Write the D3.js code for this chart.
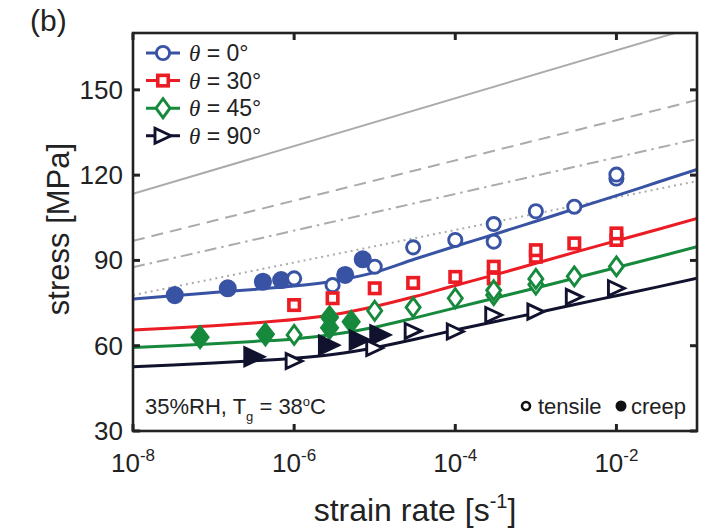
<!DOCTYPE html>
<html><head><meta charset="utf-8">
<script src="https://cdn.jsdelivr.net/npm/d3@7"></script>
<style>body{margin:0;background:#fff}svg{display:block}</style>
</head><body><svg id="c" width="712" height="530"></svg>
<script>
// ---- data ----
const xTicks = [1e-8, 1e-6, 1e-4, 1e-2];
const xTickExp = ["-8", "-6", "-4", "-2"];
const yTicks = [30, 60, 90, 120, 150];

const seriesAngles = ["0", "30", "45", "90"];

// fitted model curves (sampled along the drawn curves)
const fitRates = [1e-8, 3.16e-8, 1e-7, 3.16e-7, 1e-6, 3.16e-6, 1e-5, 3.16e-5, 1e-4, 3.16e-4, 1e-3, 3.16e-3, 1e-2, 3.16e-2, 1e-1];
const fit0  = [76.4, 77.6, 78.7, 79.8, 81.0, 82.8, 85.8, 90.5, 95.0, 99.3, 103.8, 108.3, 112.8, 117.4, 122.0];
const fit30 = [65.5, 66.2, 67.0, 68.0, 69.2, 71.0, 73.8, 77.3, 81.2, 85.0, 89.0, 93.0, 96.9, 100.8, 104.8];
const fit45 = [59.4, 60.0, 60.7, 61.5, 62.4, 64.0, 66.5, 69.8, 73.3, 76.8, 80.3, 83.9, 87.5, 91.1, 94.8];
const fit90 = [52.6, 53.2, 53.9, 54.7, 55.6, 57.0, 59.3, 62.3, 65.5, 68.5, 71.5, 74.6, 77.6, 80.6, 83.7];

// grey reference lines
const refRates = [1e-8, 1e-1];
const refSolid = [113.4, 172.3];
const refDashed = [96.9, 146.4];
const refDashDot = [87.6, 132.7];
const refDotted = [77.8, 117.9];

// tensile (open markers)
const tenRates0  = [1e-6, 3e-6, 1e-5, 3e-5, 1e-4, 3e-4, 3e-4, 1e-3, 3e-3, 1e-2, 1e-2];
const ten0       = [83.7, 81.3, 87.8, 94.6, 97.2, 96.6, 102.8, 107.3, 108.9, 118.8, 120.2];
const tenRates30 = [1e-6, 3e-6, 1e-5, 3e-5, 1e-4, 3e-4, 3e-4, 1e-3, 1e-3, 3e-3, 1e-2, 1e-2];
const ten30      = [74.3, 76.7, 80.2, 82.1, 84.2, 83.7, 87.8, 91.3, 93.6, 96.0, 97.2, 99.5];
const tenRates45 = [1e-6, 1e-5, 3e-5, 1e-4, 3e-4, 3e-4, 1e-3, 1e-3, 3e-3, 1e-2];
const ten45      = [63.8, 72.3, 73.5, 76.7, 77.8, 79.5, 81.5, 83.5, 84.4, 87.9];
const tenRates90 = [1e-6, 1e-5, 3e-5, 1e-4, 3e-4, 1e-3, 3e-3, 1e-2];
const ten90      = [54.6, 59.2, 65.2, 65.0, 70.8, 72.0, 77.2, 80.2];

// creep (filled markers)
const creepRates0  = [3.3e-8, 1.5e-7, 4.1e-7, 6.9e-7, 4.3e-6, 7.1e-6];
const creep0       = [77.8, 80.2, 82.5, 83.1, 84.9, 90.4];
const creepRates45 = [6.8e-8, 4.4e-7, 2.75e-6, 2.75e-6, 5.1e-6];
const creep45      = [63.0, 64.0, 70.0, 66.3, 68.4];
const creepRates90 = [3.2e-7, 2.7e-6, 6.5e-6, 1.17e-5];
const creep90      = [56.1, 60.2, 62.0, 63.8];

// ---- chart ----
const colors = ["#3953a4", "#ec1c24", "#16893d", "#10122e"];
const shapes = ["circle", "square", "diamond", "triangle"];
const grey = "#ababab";
const svg = d3.select("#c");
const L = 133, R = 697, T = 33, B = 431;
const x = d3.scaleLog().domain([1e-8, 1e-1]).range([L, R]);
const y = d3.scaleLinear().domain([30, 170]).range([B, T]);
const FONT = "'Liberation Sans', Arial, Helvetica, sans-serif";

svg.append("defs").append("clipPath").attr("id", "clip")
  .append("rect").attr("x", L).attr("y", T).attr("width", R - L).attr("height", B - T);

const plot = svg.append("g").attr("clip-path", "url(#clip)");
const line = d3.line().x(d => x(d[0])).y(d => y(d[1]));
const curve = d3.line().x(d => x(d[0])).y(d => y(d[1])).curve(d3.curveMonotoneX);
const zip = (a, b) => a.map((v, i) => [v, b[i]]);

// reference lines
[[refSolid, null], [refDashed, "12,7"], [refDashDot, "12,5,2.5,5"], [refDotted, "2,4"]].forEach(([vals, dash]) => {
  plot.append("path").attr("d", line(zip(refRates, vals)))
    .attr("fill", "none").attr("stroke", grey).attr("stroke-width", 2)
    .attr("stroke-dasharray", dash);
});

// fit curves
[fit0, fit30, fit45, fit90].forEach((f, i) => {
  plot.append("path").attr("d", curve(zip(fitRates, f)))
    .attr("fill", "none").attr("stroke", colors[i]).attr("stroke-width", 3);
});

function marker(g, shape, cx, cy, color, filled) {
  const fill = filled ? color : "#fff";
  let el;
  if (shape === "circle") {
    el = g.append("circle").attr("cx", cx).attr("cy", cy).attr("r", filled ? 7.6 : 6.6);
  } else if (shape === "square") {
    const s = 10.5;
    el = g.append("rect").attr("x", cx - s / 2).attr("y", cy - s / 2).attr("width", s).attr("height", s);
  } else if (shape === "diamond") {
    const w = filled ? 8 : 7, h = filled ? 10.5 : 9.5;
    el = g.append("path").attr("d", `M${cx},${cy - h}L${cx + w},${cy}L${cx},${cy + h}L${cx - w},${cy}Z`);
  } else {
    const w = filled ? 9.5 : 8, h = filled ? 9 : 7.5;
    el = g.append("path").attr("d", `M${cx + w},${cy}L${cx - w},${cy - h}L${cx - w},${cy + h}Z`);
  }
  el.attr("fill", fill).attr("stroke", color).attr("stroke-width", shape === "square" ? 3.6 : 2.9)
    .attr("stroke-linejoin", "miter");
  return el;
}

const mg = svg.append("g");
const creepSets = [[creepRates0, creep0, 0], [creepRates45, creep45, 2], [creepRates90, creep90, 3]];
creepSets.forEach(([r, v, i]) => r.forEach((rr, k) => marker(mg, shapes[i], x(rr), y(v[k]), colors[i], true)));
const tenSets = [[tenRates0, ten0, 0], [tenRates30, ten30, 1], [tenRates45, ten45, 2], [tenRates90, ten90, 3]];
tenSets.forEach(([r, v, i]) => r.forEach((rr, k) => marker(mg, shapes[i], x(rr), y(v[k]), colors[i], false)));

// frame + ticks
const ax = svg.append("g").attr("stroke", "#222");
const tickLen = 7;
xTicks.forEach(t => {
  ax.append("line").attr("x1", x(t)).attr("x2", x(t)).attr("y1", B).attr("y2", B - tickLen).attr("stroke-width", 3);
  ax.append("line").attr("x1", x(t)).attr("x2", x(t)).attr("y1", T).attr("y2", T + tickLen).attr("stroke-width", 3);
});
yTicks.forEach(t => {
  ax.append("line").attr("x1", L).attr("x2", L + tickLen).attr("y1", y(t)).attr("y2", y(t)).attr("stroke-width", 3);
  ax.append("line").attr("x1", R).attr("x2", R - tickLen).attr("y1", y(t)).attr("y2", y(t)).attr("stroke-width", 3);
});
svg.append("rect").attr("x", L).attr("y", T).attr("width", R - L).attr("height", B - T)
  .attr("fill", "none").attr("stroke", "#222").attr("stroke-width", 2.6);

// tick labels
const txt = svg.append("g").attr("font-family", FONT).attr("fill", "#222");
xTicks.forEach((t, i) => {
  const tx = txt.append("text").attr("x", x(t)).attr("y", 472).attr("text-anchor", "middle").attr("font-size", 26);
  tx.append("tspan").text("10");
  tx.append("tspan").attr("font-size", 17).attr("dy", -11).text(xTickExp[i]);
});
yTicks.forEach(t => {
  txt.append("text").attr("x", 123).attr("y", y(t) + 9).attr("text-anchor", "end").attr("font-size", 26).text(t);
});

// axis labels
txt.append("text").attr("transform", "translate(69,229) rotate(-90)").attr("text-anchor", "middle")
  .attr("font-size", 31).text("stress [MPa]");
const xl = txt.append("text").attr("x", 415).attr("y", 521).attr("text-anchor", "middle").attr("font-size", 32);
xl.append("tspan").text("strain rate [s");
xl.append("tspan").attr("font-size", 20).attr("dy", -13).text("-1");
xl.append("tspan").attr("dy", 13).text("]");
txt.append("text").attr("x", 30).attr("y", 31).attr("font-size", 30).text("(b)");

// legend
const lg = svg.append("g");
seriesAngles.forEach((a, i) => {
  const cy = 53 + i * 27.6;
  lg.append("line").attr("x1", 146).attr("x2", 180).attr("y1", cy).attr("y2", cy)
    .attr("stroke", colors[i]).attr("stroke-width", 3);
  marker(lg, shapes[i], 163, cy, colors[i], false);
  const t = lg.append("text").attr("x", 189).attr("y", cy + 8).attr("font-size", 23).attr("fill", "#222")
    .attr("font-family", FONT);
  t.append("tspan").attr("font-family", "'Liberation Serif', 'DejaVu Serif', serif").attr("font-style", "italic").text("θ");
  t.append("tspan").text(" = " + a + "°");
});

// annotations
const an = txt.append("text").attr("x", 145).attr("y", 414).attr("font-size", 22);
an.append("tspan").text("35%RH, T");
an.append("tspan").attr("font-size", 13).attr("dy", 7).text("g");
an.append("tspan").attr("dy", -7).text(" = 38");
an.append("tspan").attr("font-size", 13).attr("dy", -8).text("o");
an.append("tspan").attr("dy", 8).text("C");

svg.append("circle").attr("cx", 526).attr("cy", 406).attr("r", 4).attr("fill", "#fff").attr("stroke", "#111").attr("stroke-width", 2.6);
txt.append("text").attr("x", 538).attr("y", 414).attr("font-size", 22).text("tensile");
svg.append("circle").attr("cx", 621).attr("cy", 406).attr("r", 5.5).attr("fill", "#111");
txt.append("text").attr("x", 631).attr("y", 414).attr("font-size", 22).text("creep");
</script>
</body></html>
